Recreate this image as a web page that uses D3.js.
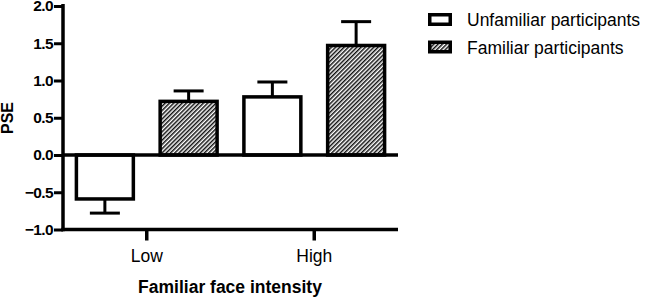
<!DOCTYPE html>
<html>
<head>
<meta charset="utf-8">
<script src="https://cdn.jsdelivr.net/npm/d3@7"></script>
<style>
  body { margin: 0; background: #fff; }
  svg { display: block; font-family: "Liberation Sans", Arial, sans-serif; }
</style>
</head>
<body>
<div id="chart"></div>
<script>
const groups = ["Low", "High"];
const seriesNames = ["Unfamiliar participants", "Familiar participants"];
const means = {
    "Unfamiliar participants": [-0.59, 0.78],
    "Familiar participants": [0.72, 1.47]
};
const errors = {
    "Unfamiliar participants": [0.19, 0.2],
    "Familiar participants": [0.14, 0.32]
};
const yTicks = [-1.0, -0.5, 0.0, 0.5, 1.0, 1.5, 2.0];

const width = 649, height = 297;
const plot = { left: 63, right: 398, top: 6, bottom: 229.5 };

const svg = d3.select("#chart").append("svg")
    .attr("width", width)
    .attr("height", height);

// hatch pattern for the familiar bars
const defs = svg.append("defs");
defs.append("pattern")
    .attr("id", "hatch")
    .attr("patternUnits", "userSpaceOnUse")
    .attr("width", 3)
    .attr("height", 3)
    .attr("patternTransform", "rotate(45)")
    .append("rect")
    .attr("width", 1.5)
    .attr("height", 3)
    .attr("fill", "#111");

const x0 = d3.scaleBand()
    .domain(groups)
    .range([plot.left, plot.right]);

const x1 = d3.scaleBand()
    .domain(seriesNames)
    .range([0, x0.bandwidth()])
    .paddingInner(0.32)
    .paddingOuter(0.16);

const y = d3.scaleLinear()
    .domain([-1, 2])
    .range([plot.bottom, plot.top]);

const fills = {
    "Unfamiliar participants": "#fff",
    "Familiar participants": "url(#hatch)"
};

const rows = [];
seriesNames.forEach(s => {
    groups.forEach((g, i) => {
        rows.push({ series: s, group: g, value: means[s][i], err: errors[s][i] });
    });
});

// bars
svg.append("g").selectAll("rect")
    .data(rows)
    .join("rect")
    .attr("x", d => x0(d.group) + x1(d.series))
    .attr("width", x1.bandwidth())
    .attr("y", d => y(Math.max(0, d.value)))
    .attr("height", d => Math.abs(y(d.value) - y(0)))
    .attr("fill", d => fills[d.series])
    .attr("stroke", "#000")
    .attr("stroke-width", 3.5);

// error bars (one-sided, away from zero)
const errG = svg.append("g")
    .attr("stroke", "#000")
    .attr("stroke-width", 3);

rows.forEach(d => {
    const cx = x0(d.group) + x1(d.series) + x1.bandwidth() / 2;
    const sign = d.value < 0 ? -1 : 1;
    const y1 = y(d.value);
    const y2 = y(d.value + sign * d.err);
    errG.append("line")
        .attr("x1", cx).attr("x2", cx)
        .attr("y1", y1).attr("y2", y2);
    errG.append("line")
        .attr("x1", cx - 15).attr("x2", cx + 15)
        .attr("y1", y2).attr("y2", y2);
});

// zero line
svg.append("line")
    .attr("x1", plot.left).attr("x2", plot.right)
    .attr("y1", y(0)).attr("y2", y(0))
    .attr("stroke", "#000")
    .attr("stroke-width", 3.5);

// y axis
const yAxis = svg.append("g")
    .attr("transform", `translate(${plot.left},0)`)
    .call(d3.axisLeft(y).tickValues(yTicks).tickFormat(d3.format(".1f")).tickSize(9).tickPadding(1));
yAxis.select(".domain").attr("stroke-width", 3.5).attr("d", `M0,${plot.top - 2}V${plot.bottom + 1.75}`);
yAxis.selectAll(".tick line").attr("stroke-width", 3);
yAxis.selectAll(".tick text")
    .attr("font-size", 15.5)
    .attr("font-weight", "bold")
    .attr("letter-spacing", -0.6)
    .attr("font-family", "Liberation Sans, Arial, sans-serif")
    .attr("fill", "#000");

// x axis
const xAxis = svg.append("g")
    .attr("transform", `translate(0,${plot.bottom})`)
    .call(d3.axisBottom(x0).tickSize(11));
xAxis.select(".domain").attr("stroke-width", 3.5).attr("d", `M${plot.left - 1.75},0H${plot.right}`);
xAxis.selectAll(".tick line").attr("stroke-width", 3.5);
xAxis.selectAll(".tick text")
    .attr("y", 32.5)
    .attr("dy", null)
    .attr("font-size", 17.5)
    .attr("font-family", "Liberation Sans, Arial, sans-serif")
    .attr("fill", "#000");

// axis titles
svg.append("text")
    .attr("text-anchor", "middle")
    .attr("transform", `translate(13, 118) rotate(-90)`)
    .attr("font-size", 16)
    .attr("font-weight", "bold")
    .text("PSE");

svg.append("text")
    .attr("x", 230)
    .attr("y", 293)
    .attr("text-anchor", "middle")
    .attr("font-size", 17.5)
    .attr("font-weight", "bold")
    .text("Familiar face intensity");

// legend
const legend = svg.append("g")
    .attr("transform", "translate(428, 13)");

const li = legend.selectAll("g")
    .data(seriesNames)
    .join("g")
    .attr("transform", (d, i) => `translate(0, ${i * 27.5})`);

li.append("rect")
    .attr("x", 1.75).attr("y", 1.75)
    .attr("width", 20.5).attr("height", 9.5)
    .attr("fill", d => fills[d])
    .attr("stroke", "#000")
    .attr("stroke-width", 3.5);

li.append("text")
    .attr("x", 39)
    .attr("y", 13)
    .attr("font-size", 17.5)
    .text(d => d);
</script>
</body>
</html>
